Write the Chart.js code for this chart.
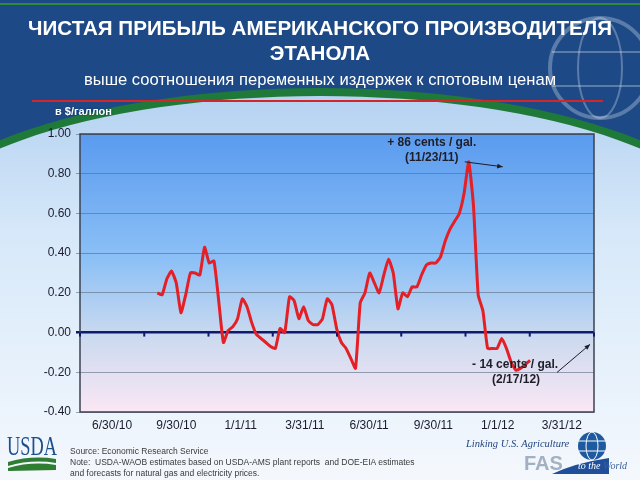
<!DOCTYPE html>
<html>
<head>
<meta charset="utf-8">
<script src="https://cdn.jsdelivr.net/npm/chart.js@4.4.1/dist/chart.umd.min.js"></script>
<style>
  body { margin: 0; }
  #slide { position: relative; width: 640px; height: 480px; overflow: hidden; font-family: "Liberation Sans", Arial, sans-serif; }
  #slide canvas { position: absolute; left: 0; top: 0; }
  .txt { position: absolute; white-space: nowrap; }
  #title { left: 0; width: 640px; top: 15px; line-height: 25px; text-align: center; color: #fff; font-weight: bold; font-size: 20.6px; }
  #subtitle { left: 0; width: 640px; top: 70px; line-height: 20px; text-align: center; color: #fff; font-size: 16.6px; }
  #redline { position: absolute; left: 32px; top: 100px; width: 571px; height: 2px; background: #d3262b; }
  #units { left: 55px; top: 104px; line-height: 14px; font-size: 11px; font-weight: bold; color: #fff; text-shadow: 0 0 2px #0b2a55; }
  #usda { left: 7px; top: 432px; line-height: 28px; font-family: "Liberation Serif", serif; font-size: 27px; color: #1b4f8c; transform: scaleX(0.68); transform-origin: left; }
  #source { left: 70px; top: 446px; line-height: 11px; font-size: 8.5px; color: #3a3a3a; }
  #linking { left: 466px; top: 437px; line-height: 14px; font-family: "Liberation Serif", serif; font-style: italic; font-size: 10.5px; color: #23467f; }
  #fas { left: 524px; top: 452px; line-height: 22px; font-size: 20px; font-weight: bold; color: #a2b0c2; }
  #world { left: 578px; top: 459px; line-height: 14px; font-family: "Liberation Serif", serif; font-style: italic; font-size: 10px; color: #3b5f9a; }
  #world span { color: #fff; }
</style>
</head>
<body>
<div id="slide">
  <canvas id="profit-chart" width="640" height="480"></canvas>
  <div class="txt" id="title">ЧИСТАЯ ПРИБЫЛЬ АМЕРИКАНСКОГО ПРОИЗВОДИТЕЛЯ<br>ЭТАНОЛА</div>
  <div class="txt" id="subtitle">выше соотношения переменных издержек к спотовым ценам</div>
  <div id="redline"></div>
  <div class="txt" id="units">в $/галлон</div>
  <div class="txt" id="usda">USDA</div>
  <div class="txt" id="source">Source: Economic Research Service<br>Note:&nbsp; USDA-WAOB estimates based on USDA-AMS plant reports&nbsp; and DOE-EIA estimates<br>and forecasts for natural gas and electricity prices.</div>
  <div class="txt" id="linking">Linking U.S. Agriculture</div>
  <div class="txt" id="fas">FAS</div>
  <div class="txt" id="world"><span>to the</span> World</div>
</div>
<script>
const quarterLabels = ['6/30/10', '9/30/10', '1/1/11', '3/31/11', '6/30/11', '9/30/11', '1/1/12', '3/31/12'];

// weekly net margin, $/gal
const netProfit = [
    0.20, 0.19, 0.27, 0.31, 0.25, 0.10, 0.19, 0.30, 0.30, 0.29,
    0.43, 0.35, 0.36, 0.16, -0.05, 0.01, 0.03, 0.07, 0.17, 0.13,
    0.05, -0.01, -0.03, -0.05, -0.07, -0.08, 0.02, 0.00, 0.18, 0.16,
    0.07, 0.13, 0.06, 0.04, 0.04, 0.07, 0.17, 0.14, 0.02, -0.05,
    -0.08, -0.13, -0.18, 0.15, 0.20, 0.30, 0.25, 0.20, 0.29, 0.37,
    0.30, 0.12, 0.20, 0.18, 0.23, 0.23, 0.29, 0.34, 0.35, 0.35,
    0.38, 0.46, 0.52, 0.56, 0.60, 0.70, 0.86, 0.64, 0.19, 0.11,
    -0.08, -0.08, -0.08, -0.03, -0.08, -0.15, -0.19, -0.18, -0.16, -0.14
];

const peakIndex = 66;
const peakNote = ['+ 86 cents / gal.', '(11/23/11)'];
const lastIndex = 79;
const lowNote = ['- 14 cents / gal.', '(2/17/12)'];

function drawArrow(ctx, x1, y1, x2, y2) {
    const a = Math.atan2(y2 - y1, x2 - x1);
    ctx.beginPath();
    ctx.moveTo(x1, y1);
    ctx.lineTo(x2, y2);
    ctx.stroke();
    ctx.beginPath();
    ctx.moveTo(x2, y2);
    ctx.lineTo(x2 - 6 * Math.cos(a - 0.4), y2 - 6 * Math.sin(a - 0.4));
    ctx.lineTo(x2 - 6 * Math.cos(a + 0.4), y2 - 6 * Math.sin(a + 0.4));
    ctx.closePath();
    ctx.fill();
}

// upper half of an ellipse, closed down to the bottom of the slide
function archPath(ctx, cy, rx, ry) {
    ctx.beginPath();
    ctx.ellipse(320, cy, rx, ry, 0, Math.PI, Math.PI * 2);
    ctx.lineTo(320 + rx, 480);
    ctx.lineTo(320 - rx, 480);
    ctx.closePath();
}

// slide background + plot area gradient
const slidePlugin = {
    id: 'slide',
    beforeDraw(chart) {
        const {ctx, chartArea: a} = chart;
        ctx.save();
        ctx.fillStyle = '#1d4a87';
        ctx.fillRect(0, 0, 640, 480);
        ctx.fillStyle = '#2f8a3c';
        ctx.fillRect(0, 3, 640, 2);

        // faint globe top right
        ctx.strokeStyle = 'rgba(255,255,255,0.28)';
        ctx.lineWidth = 4;
        ctx.beginPath(); ctx.arc(600, 68, 50, 0, Math.PI * 2); ctx.stroke();
        ctx.lineWidth = 2;
        ctx.beginPath(); ctx.ellipse(600, 68, 22, 50, 0, 0, Math.PI * 2); ctx.stroke();
        ctx.beginPath(); ctx.moveTo(552, 52); ctx.lineTo(648, 52); ctx.moveTo(552, 86); ctx.lineTo(648, 86); ctx.stroke();

        // big arc: green rim, light inside
        archPath(ctx, 245, 430, 157);
        ctx.fillStyle = '#1f7a3a';
        ctx.fill();
        const g = ctx.createLinearGradient(0, 95, 0, 480);
        g.addColorStop(0, '#b5d2f1');
        g.addColorStop(0.35, '#d6e8f9');
        g.addColorStop(1, '#f4f8fd');
        archPath(ctx, 245, 420, 149);
        ctx.fillStyle = g;
        ctx.fill();

        // plot area
        const pg = ctx.createLinearGradient(0, a.top, 0, a.bottom);
        pg.addColorStop(0, '#5a9bef');
        pg.addColorStop(0.45, '#8cc0f6');
        pg.addColorStop(0.72, '#c9d9ef');
        pg.addColorStop(1, '#fbe7f4');
        ctx.fillStyle = pg;
        ctx.fillRect(a.left, a.top, a.right - a.left, a.bottom - a.top);

        // USDA swoosh
        ctx.fillStyle = '#2e7d32';
        ctx.beginPath();
        ctx.moveTo(8, 462); ctx.quadraticCurveTo(32, 455, 56, 459);
        ctx.lineTo(56, 463); ctx.quadraticCurveTo(32, 459, 8, 466); ctx.closePath(); ctx.fill();
        ctx.beginPath();
        ctx.moveTo(8, 468); ctx.quadraticCurveTo(32, 461, 56, 465);
        ctx.lineTo(56, 470); ctx.lineTo(8, 471); ctx.closePath(); ctx.fill();

        // FAS globe and band
        ctx.fillStyle = '#1e5aa0';
        ctx.beginPath(); ctx.arc(592, 446, 14, 0, Math.PI * 2); ctx.fill();
        ctx.strokeStyle = '#ffffff'; ctx.lineWidth = 1;
        ctx.beginPath(); ctx.ellipse(592, 446, 6, 14, 0, 0, Math.PI * 2); ctx.stroke();
        ctx.beginPath(); ctx.moveTo(578, 441); ctx.lineTo(606, 441); ctx.moveTo(578, 451); ctx.lineTo(606, 451); ctx.stroke();
        ctx.fillStyle = '#1f4f9a';
        ctx.beginPath();
        ctx.moveTo(552, 474); ctx.quadraticCurveTo(575, 463, 609, 458);
        ctx.lineTo(609, 474); ctx.closePath(); ctx.fill();
        ctx.restore();
    },
    afterDatasetsDraw(chart) {
        const {ctx, chartArea: a, scales: {x, y, xq}} = chart;
        ctx.save();
        ctx.strokeStyle = '#3c4150';
        ctx.lineWidth = 1.5;
        ctx.strokeRect(a.left, a.top, a.right - a.left, a.bottom - a.top);

        // small tick marks on the zero line
        const y0 = y.getPixelForValue(0);
        ctx.fillStyle = '#0d1a70';
        for (let k = 0; k <= quarterLabels.length; k++) {
            const bx = xq.getPixelForValue(k - 0.5);
            ctx.fillRect(bx - 1, y0, 2, 4);
        }

        // notes
        ctx.fillStyle = '#1e1e28';
        ctx.strokeStyle = '#1e1e28';
        ctx.lineWidth = 1;
        ctx.font = 'bold 12px "Liberation Sans"';
        ctx.textAlign = 'center';
        ctx.textBaseline = 'middle';
        const px = x.getPixelForValue(peakIndex), py = y.getPixelForValue(netProfit[peakIndex]);
        ctx.fillText(peakNote[0], px - 37, py - 19);
        ctx.fillText(peakNote[1], px - 37, py - 4);
        drawArrow(ctx, px - 4, py, px + 34, py + 5);
        const lx = x.getPixelForValue(lastIndex), ly = y.getPixelForValue(netProfit[lastIndex]);
        ctx.fillText(lowNote[0], lx - 15, ly + 4);
        ctx.fillText(lowNote[1], lx - 14, ly + 19);
        drawArrow(ctx, lx + 27, ly + 12, lx + 60, ly - 16);
        ctx.restore();
    }
};

const isZero = v => Math.abs(v) < 1e-9;

new Chart(document.getElementById('profit-chart'), {
    type: 'line',
    data: {
        datasets: [{
            label: 'Net profit',
            data: netProfit.map((v, i) => ({x: i, y: v})),
            borderColor: '#e41f26',
            borderWidth: 3,
            pointRadius: 0,
            tension: 0.15,
            borderJoinStyle: 'round',
            xAxisID: 'x',
            yAxisID: 'y'
        }]
    },
    options: {
        responsive: false,
        animation: false,
        layout: { padding: { left: 30, right: 46, top: 134, bottom: 34 } },
        plugins: {
            legend: { display: false },
            tooltip: { enabled: false }
        },
        scales: {
            x: { type: 'linear', display: false, min: -16.4, max: 92.55 },
            xq: {
                type: 'category',
                position: 'bottom',
                labels: quarterLabels,
                offset: true,
                grid: { display: false, drawTicks: false },
                border: { display: false },
                ticks: { color: '#1b1b2e', font: { size: 12, family: 'Liberation Sans' }, padding: 6, maxRotation: 0, autoSkip: false },
                afterFit: s => { s.height = 34; }
            },
            y: {
                min: -0.4,
                max: 1.0,
                ticks: {
                    stepSize: 0.2,
                    callback: v => (isZero(v) ? 0 : v).toFixed(2),
                    color: '#1b1b2e',
                    font: { size: 12, family: 'Liberation Sans' },
                    padding: 5
                },
                grid: {
                    color: c => isZero(c.tick.value) ? '#0d1a70' : 'rgba(90,105,130,0.6)',
                    lineWidth: c => isZero(c.tick.value) ? 2.5 : 1,
                    tickLength: 4
                },
                border: { display: false },
                afterFit: s => { s.width = 50; }
            }
        }
    },
    plugins: [slidePlugin]
});
</script>
</body>
</html>
